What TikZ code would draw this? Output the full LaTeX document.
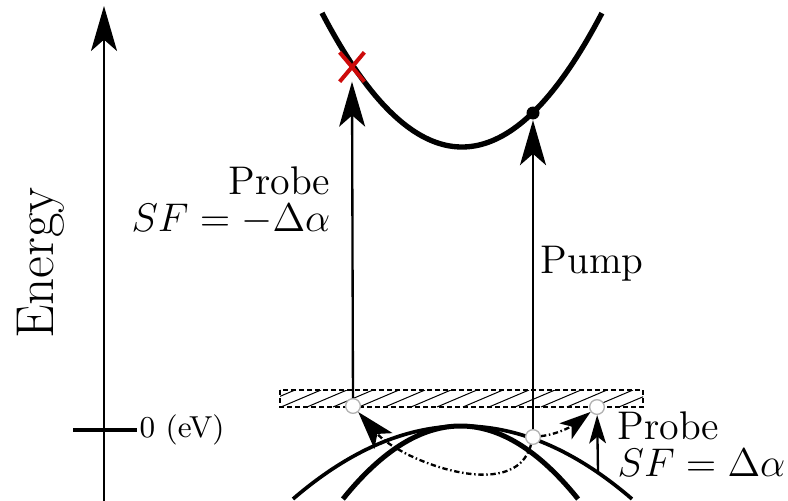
\documentclass[tikz,border=0pt]{standalone}
\usetikzlibrary{arrows.meta,shapes.misc}
\definecolor{xred}{RGB}{205,10,10}
\begin{document}
\begin{tikzpicture}[x=0.3pt,y=-0.3pt,
  bigtip/.style={-{Stealth[length=13.5pt,width=7.8pt,inset=3.4pt]}},
  midtip/.style={-{Stealth[length=11.5pt,width=7.2pt,inset=2.8pt]}},
  rtip/.style={-{Stealth[length=9.5pt,width=6pt,inset=2.3pt]}},
  smalltip/.style={-{Stealth[length=8.5pt,width=5pt,inset=2pt]}},
  vline/.style={line width=0.7pt},
  dashdot/.style={line width=0.7pt,dash pattern=on 1.6pt off 0.8pt on 0.45pt off 0.8pt},
  hole/.style={circle,draw=black!30,fill=white,line width=0.4pt,minimum size=4.4pt,inner sep=0pt},
  lbl/.style={inner sep=0pt,font=\fontsize{12}{14}\selectfont},
  lbl2/.style={inner sep=0pt,font=\fontsize{12}{11.1}\selectfont},
]
\useasboundingbox (0,0) rectangle (788,501);

% energy axis
\coordinate (axb) at (104,501);
\coordinate (axt) at (104,6);
\draw[vline,bigtip] (axb) -- (axt);
\coordinate (tl) at (73,430);
\coordinate (tr) at (137,430);
\draw[line width=1.0pt] (tl) -- (tr);
\node[inner sep=0pt,anchor=base west,font=\fontsize{9.1}{11}\selectfont] (zero) at (139,437) {0 (eV)};
\node[rotate=90,anchor=base,inner sep=0pt,font=\fontsize{16}{19}\selectfont] (energy) at (53,263) {Energy};

% conduction band
\draw[line width=1.6pt] plot[domain=-1.40:1.40,samples=80] ({462+100*\x},{147-68.4*\x*\x});

% valence bands
\draw[line width=1.1pt] plot[domain=-1.695:1.695,samples=80] ({462.5+100*\x},{426+25.4*\x*\x});
\draw[line width=1.5pt] plot[domain=-1.176:1.176,samples=80] ({460.5+100*\x},{426+52.8*\x*\x});

% hatched defect band
\begin{scope}
  \clip (280,390) rectangle (643,407);
  \foreach \i in {0,...,15} \draw[line width=0.3pt] ({255+26*\i},407) -- ++(40,-17);
\end{scope}
\draw[line width=0.65pt,dash pattern=on 1.5pt off 0.9pt] (280,390) rectangle (643,407);

% states
\node[hole] (h1) at (353,406) {};
\node[hole] (h2) at (533,437) {};
\node[hole] (h3) at (597,407) {};
\node[circle,fill=black,inner sep=0pt,minimum size=3.9pt] (el) at (533,113) {};
\node[cross out,draw=xred,line width=1.2pt,minimum width=6.2pt,minimum height=7.6pt,inner sep=0pt] (xx) at (352,67) {};

% probe and pump
\draw[vline,bigtip] (h1) -- (xx.south);
\draw[vline,bigtip] (h2) -- (el);
\coordinate (pb) at (598,471);
\draw[vline,smalltip] (pb) -- (h3);

% scattering paths
\draw[dashdot,midtip] (h2) .. controls (515,505) and (400,460) .. (h1);
\draw[dashdot,rtip] (h2) .. controls (560,434) and (575,424) .. (h3);

% labels
\node[lbl2,align=right,anchor=north east] (pl) at (331,166) {Probe\\$SF=-\Delta\alpha$};
\node[lbl,anchor=base west] (pump) at (540,273) {Pump};
\node[lbl2,align=left,anchor=north west] (pr) at (617,411) {Probe\\$SF=\Delta\alpha$};
\end{tikzpicture}
\end{document}
